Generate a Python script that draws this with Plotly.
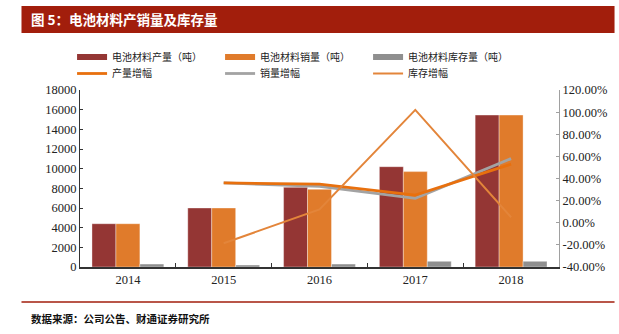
import plotly.graph_objects as go

years = ["2014", "2015", "2016", "2017", "2018"]
production = [4400, 6000, 8100, 10200, 15450]
sales = [4400, 6000, 7900, 9700, 15450]
inventory = [300, 200, 300, 580, 580]

growth_years = ["2015", "2016", "2017", "2018"]
prod_growth = [36, 35, 25, 53]
sales_growth = [36, 33, 22, 58]
inv_growth = [-18.5, 12, 102, 5]

y2_ticks = [-40, -20, 0, 20, 40, 60, 80, 100, 120]
y2_labels = ["-40.00%", "-20.00%", "0.00%", "20.00%", "40.00%", "60.00%", "80.00%", "100.00%", "120.00%"]

title_text = "图 5：电池材料产销量及库存量"
source_text = "数据来源：公司公告、财通证券研究所"

C_PROD = "#943634"
C_SALES = "#E07B2B"
C_INV = "#8F8F8F"
C_PG = "#E8700E"
C_SG = "#A3A3A3"
C_IG = "#E3853A"
RED = "#A21E0C"

W, H = 619, 334
L, R, T, B = 80, 563, 90, 267
pw, ph = R - L, B - T

def px(x):
    return (x - L) / pw

def py(y):
    return (B - y) / ph

fig = go.Figure()

bar_line = dict(color="rgba(255,255,255,0.6)", width=0.6)
fig.add_trace(go.Bar(x=years, y=production, marker=dict(color=C_PROD, line=bar_line), showlegend=False, name="电池材料产量（吨）"))
fig.add_trace(go.Bar(x=years, y=sales, marker=dict(color=C_SALES, line=bar_line), showlegend=False, name="电池材料销量（吨）"))
fig.add_trace(go.Bar(x=years, y=inventory, marker=dict(color=C_INV, line=bar_line), showlegend=False, name="电池材料库存量（吨）"))

# legend entries for bars (thick swatches)
for nm, col in [("电池材料产量（吨）", C_PROD), ("电池材料销量（吨）", C_SALES), ("电池材料库存量（吨）", C_INV)]:
    fig.add_trace(go.Scatter(x=[None], y=[None], mode="lines", line=dict(color=col, width=6),
                             name=nm, legend="legend", showlegend=True))

fig.add_trace(go.Scatter(x=growth_years, y=sales_growth, yaxis="y2", mode="lines",
                         line=dict(color=C_SG, width=2.8), name="销量增幅", legend="legend2", legendrank=2))
fig.add_trace(go.Scatter(x=growth_years, y=prod_growth, yaxis="y2", mode="lines",
                         line=dict(color=C_PG, width=2.8), name="产量增幅", legend="legend2", legendrank=1))
fig.add_trace(go.Scatter(x=growth_years, y=inv_growth, yaxis="y2", mode="lines",
                         line=dict(color=C_IG, width=2), name="库存增幅", legend="legend2", legendrank=3))

tick_font = dict(family="Liberation Serif, serif", size=12.5, color="#222222")
leg_font = dict(family="Noto Sans CJK SC", size=10, color="#222222")

fig.update_layout(
    width=W, height=H,
    margin=dict(l=L, r=W - R, t=T, b=H - B, pad=0),
    paper_bgcolor="white", plot_bgcolor="white",
    barmode="group", bargap=0.25, bargroupgap=0,
    showlegend=True,
    xaxis=dict(type="category", showgrid=False, showline=True, linecolor="#333333", linewidth=1.5,
               ticks="inside", tickson="boundaries", ticklen=4, tickcolor="#333333",
               tickfont=tick_font, zeroline=False),
    yaxis=dict(range=[0, 18000], dtick=2000, tickformat="d", showgrid=False, showline=True, linecolor="#333333",
               linewidth=1.2, ticks="inside", ticklen=3, tickcolor="#333333", tickfont=tick_font,
               zeroline=False),
    yaxis2=dict(range=[-40, 120], overlaying="y", side="right", showgrid=False, showline=True,
                linecolor="#A0A0A0", linewidth=1, ticks="inside", ticklen=3, tickcolor="#A0A0A0",
                tickvals=y2_ticks, ticktext=y2_labels, tickfont=tick_font, zeroline=False),
    legend=dict(orientation="h", x=px(72), xanchor="left", y=py(57), yanchor="middle",
                font=leg_font, entrywidth=103, bgcolor="rgba(0,0,0,0)", itemclick=False, traceorder="normal"),
    legend2=dict(orientation="h", x=px(72), xanchor="left", y=py(73.5), yanchor="middle",
                 font=leg_font, entrywidth=103, bgcolor="rgba(0,0,0,0)", itemclick=False, traceorder="normal"),
    shapes=[
        dict(type="rect", xref="paper", yref="paper", x0=px(21), x1=px(619), y0=py(33), y1=py(6),
             fillcolor=RED, line=dict(width=0), layer="below"),
        dict(type="line", xref="paper", yref="paper", x0=px(21), x1=px(619), y0=py(302), y1=py(302),
             line=dict(color=RED, width=1.5)),
    ],
    annotations=[
        dict(text="<b>" + title_text + "</b>", xref="paper", yref="paper", x=px(29), y=py(19.5),
             xanchor="left", yanchor="middle", showarrow=False,
             font=dict(family="Noto Sans CJK SC", size=13.5, color="white")),
        dict(text="<b>" + source_text + "</b>", xref="paper", yref="paper", x=px(29), y=py(318),
             xanchor="left", yanchor="middle", showarrow=False,
             font=dict(family="Noto Sans CJK SC", size=10.5, color="#111111")),
    ],
)

fig.write_html("out.html")
